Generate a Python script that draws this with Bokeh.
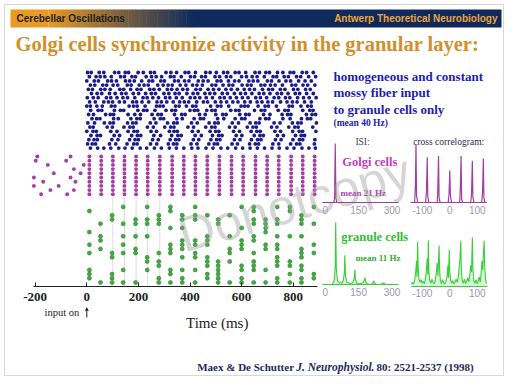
from bokeh.plotting import figure
from bokeh.models import Range1d, LinearAxis, FixedTicker
from bokeh.core.properties import value
from bokeh.embed import file_html
from bokeh.resources import INLINE

# ---------------- data ----------------
# mossy fiber input raster (cells 0..18), spike times in ms
mossy_spike_times = [
    [3, 17, 48, 66, 108, 124, 149, 162, 199, 219, 247, 262, 307, 326, 348, 381, 395, 421, 461, 478, 502, 530, 546, 575, 590, 616, 652, 669, 694, 708, 739, 760, 788, 802, 835, 852, 878],
    [10, 36, 52, 70, 95, 131, 146, 175, 189, 230, 251, 269, 290, 324, 338, 366, 402, 418, 445, 460, 497, 515, 541, 558, 600, 619, 641, 660, 688, 722, 736, 765, 781, 813, 829, 860, 887],
    [0, 29, 45, 81, 96, 115, 150, 166, 184, 213, 241, 255, 287, 301, 340, 355, 379, 396, 432, 451, 470, 505, 520, 549, 573, 590, 628, 645, 663, 700, 716, 745, 772, 790, 821, 846, 870],
    [14, 31, 62, 77, 102, 120, 157, 172, 203, 222, 238, 275, 296, 315, 331, 362, 384, 410, 427, 448, 485, 500, 528, 551, 566, 602, 622, 637, 675, 690, 712, 730, 758, 795, 810, 838, 856, 884],
    [6, 22, 54, 70, 91, 128, 143, 170, 195, 210, 244, 260, 281, 312, 329, 350, 372, 390, 423, 440, 470, 491, 512, 539, 560, 584, 610, 631, 650, 681, 705, 720, 750, 768, 801, 818, 848, 866],
    [18, 40, 58, 88, 110, 135, 152, 180, 201, 228, 250, 266, 299, 318, 342, 358, 388, 412, 430, 458, 477, 496, 525, 545, 572, 596, 615, 640, 668, 686, 710, 738, 755, 780, 808, 825, 852, 878],
    [2, 25, 44, 76, 93, 117, 140, 158, 186, 218, 234, 256, 278, 305, 322, 347, 370, 401, 419, 438, 463, 487, 516, 533, 556, 580, 603, 625, 655, 673, 697, 726, 744, 770, 787, 817, 840, 862, 889],
    [11, 33, 66, 84, 100, 126, 146, 178, 193, 214, 240, 272, 289, 310, 335, 360, 378, 395, 426, 452, 468, 498, 520, 542, 566, 586, 612, 634, 660, 679, 702, 720, 751, 776, 797, 815, 844, 870],
    [0, 14, 39, 60, 95, 109, 164, 181, 195, 226, 270, 283, 296, 344, 358, 386, 410, 423, 480, 506, 520, 550, 598, 612, 625, 664, 691, 704, 735, 784, 797, 830, 856, 870],
    [15, 44, 58, 107, 130, 143, 198, 220, 233, 264, 307, 330, 344, 400, 417, 430, 465, 485, 498, 558, 577, 590, 650, 676, 690, 742, 768, 781, 837, 864, 877],
    [7, 26, 73, 91, 104, 160, 186, 208, 253, 276, 289, 340, 368, 381, 437, 459, 500, 527, 540, 593, 616, 629, 685, 710, 757, 778, 791, 851, 873, 887],
    [20, 38, 51, 104, 122, 171, 194, 207, 261, 285, 298, 349, 370, 416, 440, 453, 507, 531, 575, 600, 613, 671, 693, 706, 760, 788, 832, 855, 868],
    [4, 30, 68, 90, 103, 158, 178, 191, 246, 268, 313, 337, 350, 406, 428, 474, 496, 509, 564, 588, 633, 655, 668, 726, 749, 797, 818, 831, 890],
    [12, 25, 79, 99, 144, 167, 180, 235, 258, 302, 325, 338, 392, 414, 461, 484, 497, 553, 575, 622, 644, 657, 716, 737, 783, 806, 819, 876],
    [0, 24, 37, 93, 117, 160, 183, 196, 249, 270, 320, 338, 351, 409, 432, 478, 499, 512, 569, 592, 637, 659, 672, 729, 751, 798, 823, 836, 888],
    [16, 40, 53, 106, 127, 174, 196, 209, 260, 286, 329, 353, 366, 420, 444, 487, 511, 524, 579, 601, 649, 671, 684, 739, 762, 809, 831, 844],
    [8, 28, 41, 97, 121, 166, 187, 200, 255, 277, 323, 344, 357, 413, 434, 481, 503, 516, 572, 594, 638, 662, 675, 731, 753, 799, 824, 837, 884],
    [3, 21, 34, 88, 112, 156, 182, 195, 247, 271, 316, 336, 349, 404, 427, 473, 494, 507, 563, 584, 631, 653, 666, 721, 744, 790, 813, 826, 882],
    [14, 42, 66, 93, 124, 148, 176, 207, 232, 262, 289, 320, 347, 376, 407, 431, 462, 489, 520, 546, 577, 604, 633, 661, 689, 718, 746, 776, 803, 834, 861, 886],
]

# Golgi cells (cells 20..29): synchronous volleys after input onset
golgi_cells = [20, 21, 22, 23, 24, 25, 26, 27, 28, 29]
golgi_volley_times = [10, 56, 101, 146, 191, 236, 283, 331, 376, 421, 467, 514, 561, 606, 654, 699, 744, 792, 837, 883]
# Golgi spikes before input onset
golgi_pre_times = [-192, -63, -198, -80, -151, -12, -50, -128, -24, -205, -63, -169, -44, -205, -109, -141, -50, -177, -76]
golgi_pre_cells = [20, 20, 21, 21, 22, 22, 23, 24, 24, 25, 25, 26, 26, 27, 27, 28, 28, 29, 29]

# granule cells (cells 31..50): spikes grouped by cycle time
granule_cycle_times = [10, 53, 98, 141, 189, 234, 279, 324, 370, 420, 467, 509, 554, 600, 647, 693, 738, 787, 832, 880]
granule_cycle_cells = [
    [33, 38, 41, 43, 47, 48, 49],
    [36, 39, 40, 42, 50],
    [34, 35, 43, 44, 48, 49, 50],
    [32, 36, 39, 41, 43, 47, 50],
    [35, 36, 39, 42, 43, 50],
    [32, 35, 36, 39, 44, 45, 47],
    [34, 35, 36, 43, 45, 46, 49, 50],
    [32, 33, 37, 41, 42, 43, 47, 48, 50],
    [34, 35, 37, 40, 41, 42, 44, 47, 49, 50],
    [32, 34, 35, 40, 41, 43, 44, 47, 50],
    [34, 39, 40, 41, 44, 45, 46, 48, 49],
    [35, 36, 45, 46, 47, 48, 49, 50],
    [34, 39, 42, 43, 45, 50],
    [32, 37, 40, 41, 42, 46, 47, 49, 50],
    [32, 33, 35, 36, 39, 40, 43, 45, 46, 47, 50],
    [35, 36, 37, 38, 41, 42, 47, 50],
    [32, 35, 36, 39, 41, 42, 44, 45, 46, 49, 50],
    [32, 33, 39, 45, 46, 48, 50],
    [34, 35, 36, 39, 42, 43, 44, 46, 47, 49, 50],
    [32, 36, 41, 43, 48, 49],
]
guide_times = [101, 146, 191, 236, 283]
time_ticks = [-200, 0, 200, 400, 600, 800]

# Golgi ISI histogram (ms, relative count)
golgi_isi_t = [0, 38, 42, 45, 48, 52, 300]
golgi_isi_n = [0, 0, 6, 100, 8, 0, 0]
# Golgi cross-correlogram (lag ms, relative count)
golgi_cc_lag = [-140, -128, -125, -123, -121, -117, -88, -85, -82, -80, -76, -46, -44, -41, -39, -35, -6, -3, 0, 2, 6,
                36, 38, 41, 43, 47, 76, 79, 82, 84, 88, 116, 119, 122, 124, 128, 135]
golgi_cc_n = [0, 0, 30, 100, 12, 0, 0, 18, 78, 10, 0, 0, 15, 80, 8, 0, 0, 12, 55, 14, 0,
              0, 20, 80, 6, 0, 0, 14, 72, 9, 0, 0, 16, 76, 8, 0, 0]
# granule ISI histogram
granule_isi_t = [0, 30, 38, 42, 45, 47, 50, 55, 65, 75, 82, 86, 88, 91, 96, 108, 120, 128, 131, 133, 136, 142, 155,
                 165, 172, 176, 178, 181, 188, 200, 210, 215, 218, 221, 228, 245, 255, 260, 263, 266, 272, 300]
granule_isi_n = [0, 0, 4, 10, 30, 100, 25, 6, 3, 2, 8, 20, 47, 15, 4, 2, 2, 6, 12, 24, 8, 2, 1,
                 2, 4, 8, 11, 5, 1, 0, 1, 3, 6, 2, 0, 0, 1, 2, 3, 1, 0, 0]
# granule cross-correlogram
granule_cc_lag = [-140, -136, -132, -128, -124, -121, -119, -117, -115, -112, -108, -104, -100, -96, -92, -88, -85, -82,
                  -80, -78, -76, -73, -69, -65, -61, -57, -53, -49, -46, -43, -39, -37, -34, -30, -26, -22, -18, -14,
                  -10, -7, -5, -2, 0, 3, 7, 11, 15, 19, 23, 27, 31, 34, 37, 40, 42, 45, 49, 53, 57, 61, 65, 69, 73,
                  76, 79, 82, 84, 87, 91, 95, 99, 103, 107, 111, 114, 117, 120, 122, 125, 127, 130, 133]
granule_cc_n = [5, 8, 4, 12, 30, 55, 20, 96, 40, 15, 8, 14, 6, 10, 5, 18, 35, 60,
                25, 99, 30, 12, 6, 15, 8, 5, 12, 28, 50, 22, 88, 35, 10, 5, 14, 7, 4, 10,
                22, 45, 18, 78, 30, 12, 6, 12, 5, 8, 15, 8, 20, 40, 60, 99, 35, 12, 6, 15, 5, 10, 18, 9, 25,
                45, 30, 106, 40, 12, 6, 14, 5, 10, 20, 8, 30, 55, 35, 70, 99, 40, 15, 5]
isi_ticks = [0, 150, 300]
cc_ticks = [-100, 0, 100]

# ---------------- figure ----------------
W, H = 504, 376
p = figure(width=W, height=H, output_backend="svg", toolbar_location=None,
           x_range=Range1d(0, W), y_range=Range1d(H, 0),
           x_axis_type=None, y_axis_type=None, min_border=0,
           background_fill_color="white", border_fill_color="white",
           outline_line_color=None)


def xr(v0, px0, k):
    return Range1d(v0 - px0 / k, v0 + (W - px0) / k)


def yr(v0, py0, k):
    return Range1d(v0 - (H - py0) / k, v0 + py0 / k)


p.extra_x_ranges = {"ms": xr(0, 86.3, 0.258), "isi": xr(0, 324.7, 0.223), "cc": xr(0, 449.3, 0.275)}
p.extra_y_ranges = {"cell": yr(0, 72, -4.2), "gisi": yr(0, 202, 0.59), "nisi": yr(0, 284, 0.62),
                    "gcc": yr(0, 202, 0.58), "ncc": yr(0, 285.5, 0.46)}

BLUE = "#1b1b8a"
PURPLE = "#a33ea3"
GREEN = "#3fae3f"
LGREEN = "#3ccf3c"


def txt(x, y, s, size, color, font="Liberation Serif", style="bold", align="left", **kw):
    p.text(x=[x], y=[y], text=[s], text_font=value(font), text_font_size=f"{size}px",
           text_font_style=style, text_color=color, text_align=align, text_baseline="middle", **kw)


# slide frame
p.quad(left=[4], right=[503], top=[4], bottom=[375], fill_color=None, line_color="#d8d8d8", line_width=1)

# header band with gradient
c0 = (233, 154, 34)
c1 = (14, 42, 92)
n = 40
x_start, x_end = 48.0, 193.0
lefts, rights, cols = [10.0], [x_start], ["#%02x%02x%02x" % c0]
for i in range(n):
    f = (i + 0.5) / n
    c = tuple(int(round(c0[j] + (c1[j] - c0[j]) * f)) for j in range(3))
    lefts.append(x_start + (x_end - x_start) * i / n)
    rights.append(x_start + (x_end - x_start) * (i + 1) / n + 0.5)
    cols.append("#%02x%02x%02x" % c)
lefts.append(x_end)
rights.append(501.0)
cols.append("#%02x%02x%02x" % c1)
p.quad(left=lefts, right=rights, top=[9] * len(lefts), bottom=[27] * len(lefts), fill_color=cols, line_color=None)

txt(16, 18, "Cerebellar Oscillations", 10, "#1e1e1e", font="Liberation Sans")
txt(497, 18, "Antwerp Theoretical Neurobiology", 10, "#eca53c", font="Liberation Sans", align="right")
txt(15, 43, "Golgi cells synchronize activity in the granular layer:", 20.5, "#d38f2b")

# guide lines
p.segment(x0=guide_times, x1=guide_times, y0=[29.8] * len(guide_times), y1=[51] * len(guide_times),
          x_range_name="ms", y_range_name="cell", line_color="#b8b8b8", line_width=1, line_dash="1 1")

# rasters
mx, my = [], []
for cell, row in enumerate(mossy_spike_times):
    for t in row:
        mx.append(t)
        my.append(cell)
p.scatter(mx, my, x_range_name="ms", y_range_name="cell", marker="circle", size=3.8,
          fill_color=BLUE, line_color=None)

gx, gy = list(golgi_pre_times), list(golgi_pre_cells)
for t in golgi_volley_times:
    for c in golgi_cells:
        gx.append(t)
        gy.append(c)
p.scatter(gx, gy, x_range_name="ms", y_range_name="cell", marker="circle", size=3.9,
          fill_color=PURPLE, line_color=None)

nx, ny = [], []
for t, cells in zip(granule_cycle_times, granule_cycle_cells):
    for c in cells:
        nx.append(t)
        ny.append(c)
p.scatter(nx, ny, x_range_name="ms", y_range_name="cell", marker="circle", size=4.0,
          fill_color=GREEN, line_color="#2c7d2c", line_width=0.6)

# main time axis
ax = LinearAxis(x_range_name="ms", y_range_name="cell", fixed_location=51, bounds=(-207, 894),
                ticker=FixedTicker(ticks=time_ticks), major_tick_in=4, major_tick_out=0,
                minor_tick_in=0, minor_tick_out=0, axis_line_color="#222222",
                major_tick_line_color="#222222", major_label_standoff=6,
                major_label_overrides={-200: "-200"},
                major_label_text_font="Liberation Serif", major_label_text_font_size="13px",
                major_label_text_font_style="bold", major_label_text_color="#222222")
p.add_layout(ax, "below")

txt(216.7, 322.7, "Time (ms)", 15, "#222222", style="normal", align="center")
txt(44, 312, "input on", 10.5, "#222222", style="normal")
p.segment(x0=[0], x1=[0], y0=[317], y1=[308], x_range_name="ms", line_color="#222222", line_width=1)
p.scatter([0], [309], x_range_name="ms", marker="triangle", size=4, fill_color="#222222", line_color=None)

# right-hand text
txt(333, 75.7, "homogeneous and constant", 13, "#1d1db0")
txt(333, 92.3, "mossy fiber input", 13, "#1d1db0")
txt(333, 109, "to granule cells only", 13, "#1d1db0")
txt(333, 122, "(mean 40 Hz)", 9.5, "#1d1db0")
txt(362, 141, "ISI:", 9.5, "#404060", style="normal", align="center")
txt(412.7, 141, "cross correlogram:", 9.5, "#2a2a50", style="normal")

# insets
p.line(golgi_isi_t, golgi_isi_n, x_range_name="isi", y_range_name="gisi", line_color=PURPLE, line_width=1.2)
p.line(golgi_cc_lag, golgi_cc_n, x_range_name="cc", y_range_name="gcc", line_color=PURPLE, line_width=1.2)
p.varea(x=granule_isi_t, y1=[0] * len(granule_isi_t), y2=granule_isi_n, x_range_name="isi", y_range_name="nisi",
        fill_color=LGREEN, fill_alpha=0.2)
p.line(granule_isi_t, granule_isi_n, x_range_name="isi", y_range_name="nisi", line_color=LGREEN, line_width=1.1)
p.varea(x=granule_cc_lag, y1=[0] * len(granule_cc_lag), y2=granule_cc_n, x_range_name="cc", y_range_name="ncc",
        fill_color=LGREEN, fill_alpha=0.2)
p.line(granule_cc_lag, granule_cc_n, x_range_name="cc", y_range_name="ncc", line_color=LGREEN, line_width=1.1)

for xname, yname, ticks, bounds, col in [
    ("isi", "gisi", isi_ticks, (-12, 330), PURPLE),
    ("cc", "gcc", cc_ticks, (-143, 135), PURPLE),
    ("isi", "nisi", isi_ticks, (-12, 330), LGREEN),
    ("cc", "ncc", cc_ticks, (-140, 138), LGREEN),
]:
    a = LinearAxis(x_range_name=xname, y_range_name=yname, fixed_location=0, bounds=bounds,
                   ticker=FixedTicker(ticks=ticks), major_tick_in=0, major_tick_out=0,
                   minor_tick_in=0, minor_tick_out=0, axis_line_color=col, major_label_standoff=3,
                   major_label_overrides={-100: "-100"},
                   major_label_text_font="Liberation Sans", major_label_text_font_size="10px",
                   major_label_text_color="#9c98ac")
    p.add_layout(a, "below")

txt(341.7, 161.7, "Golgi cells", 12.5, "#c23cc2")
txt(340, 192.7, "mean 21 Hz", 9, "#b03cb0")
txt(340.7, 236.7, "granule cells", 12.5, "#2fc02f")
txt(355, 257.3, "mean 11 Hz", 9, "#2fb02f")

# footer
txt(196.7, 366.7, "Maex & De Schutter", 11, "#1c2a5c")
txt(295.7, 366.7, "J. Neurophysiol.", 11.5, "#1c2a5c", style="bold italic")
txt(376, 366.7, "80: 2521-2537 (1998)", 11, "#1c2a5c")

# watermark
p.text(x=[294], y=[203], text=["Donotcopy"], text_font=value("Liberation Sans"), text_font_size="50px",
       text_color="#9a9a9a", text_alpha=0.42, text_align="center", text_baseline="middle", angle=0.28)

open("out.html", "w").write(file_html(p, INLINE))
